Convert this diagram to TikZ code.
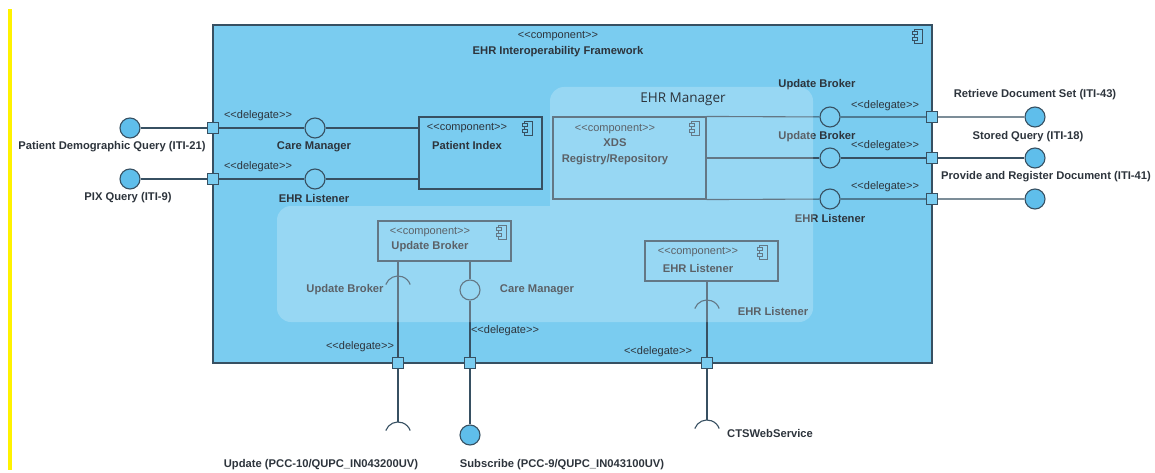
\documentclass[tikz,border=0pt]{standalone}
\usepackage{fontspec}
\setmainfont{Liberation Sans}
\newfontfamily\panelfont{Open Sans}
\definecolor{frame}{RGB}{122,204,240}
\definecolor{linec}{RGB}{55,80,98}
\definecolor{lolli}{RGB}{95,190,235}
\definecolor{txt}{RGB}{45,52,60}
\newcommand\stname[1]{<\kern0pt<#1>\kern0pt>}
\tikzset{
  cicon/.pic={
    \draw[linec, line width=0.9pt, fill=frame] (-3.5,-7) rectangle (4,7);
    \draw[linec, line width=0.9pt, fill=frame] (-6,-4.5) rectangle (-1,-1.5);
    \draw[linec, line width=0.9pt, fill=frame] (-6,1.5) rectangle (-1,4.5);
  }
}
\begin{document}
\begin{tikzpicture}[x=1pt,y=-1pt,
  line/.style={draw=linec, line width=1.1pt},
  lbl/.style={font=\fontsize{11.2}{13}\selectfont\bfseries, text=txt, inner sep=0pt},
  ster/.style={font=\fontsize{11}{13}\selectfont, text=txt, inner sep=0pt},
  port/.style={draw=linec, line width=1.1pt, fill=frame, rectangle, minimum size=11pt, inner sep=0pt},
  prov/.style={draw=linec, line width=1.1pt, fill=frame, circle, minimum size=20pt, inner sep=0pt},
  ext/.style={prov, fill=lolli},
  comp/.style={draw=linec, line width=1.1pt, rectangle, inner sep=0pt},
]
\useasboundingbox (0,0) rectangle (1155,473);
\fill[white] (0,0) rectangle (1155,473);
\fill[yellow] (8,9) rectangle (12,470);

% outer component
\node[comp, fill=frame, line width=1.4pt, minimum width=719pt, minimum height=338pt] (fw) at (572.5,194) {};
\pic at (918,36) {cicon};
\node[ster] (fwst) at (558,36) {\stname{component}};
\node[lbl] (fwname) at (558,52) {EHR Interoperability Framework};

% inner components
\node[comp, minimum width=123pt, minimum height=72pt] (pi) at (480.5,153) {};
\node[comp, minimum width=153pt, minimum height=82pt] (xds) at (629.5,158) {};
\node[comp, minimum width=133pt, minimum height=40pt] (ub) at (444.5,241) {};
\node[comp, minimum width=133pt, minimum height=40pt] (el) at (711.5,261) {};
\pic at (528,128) {cicon};
\pic at (695,128) {cicon};
\pic at (502,232) {cicon};
\pic at (763,252) {cicon};

% left interfaces
\node[ext] (lx1) at (130,128) {};
\node[ext] (lx2) at (130,179) {};
\node[port] (lp1) at (213,128) {};
\node[port] (lp2) at (213,179) {};
\node[prov] (lc1) at (315,128) {};
\node[prov] (lc2) at (315,179) {};
\draw[line] (lx1) -- (lp1) -- (lc1) -- (lc1 -| pi.west);
\draw[line] (lx2) -- (lp2) -- (lc2) -- (lc2 -| pi.west);

% right interfaces
\node[prov] (rc1) at (830,117) {};
\node[prov] (rc2) at (830,158) {};
\node[prov] (rc3) at (830,199) {};
\node[port] (rp1) at (932,117) {};
\node[port] (rp2) at (932,158) {};
\node[port] (rp3) at (932,199) {};
\node[ext] (rx1) at (1035,117) {};
\node[ext] (rx2) at (1035,158) {};
\node[ext] (rx3) at (1035,199) {};
\draw[line] (xds.north east) -- (rc1) -- (rp1) -- (rx1);
\draw[line] (xds.east) -- (rc2) -- (rp2) -- (rx2);
\draw[line] (xds.south east) -- (rc3) -- (rp3) -- (rx3);

% bottom interfaces
\node[port] (bp1) at (398,363) {};
\node[port] (bp2) at (470,363) {};
\node[port] (bp3) at (707,363) {};
\node[prov] (bc2) at (470,290) {};
\node[ext] (bx2) at (470,435) {};
\coordinate (sk1) at (398,289);
\coordinate (sk2) at (398,435);
\coordinate (sk2a) at (398,422);
\coordinate (sk3) at (707,313);
\coordinate (sk4) at (707,433);
\coordinate (sk4a) at (707,420);
\draw[line] (bp1 |- ub.south) -- (bp1) -- (sk2a);
\draw[line] (bc2 |- ub.south) -- (bc2) -- (bp2) -- (bx2);
\draw[line] (bp3 |- el.south) -- (bp3) -- (sk4a);
\foreach \s in {sk1,sk2,sk3,sk4}
  \draw[line] (\s) ++(160:13pt) arc[start angle=160, end angle=20, radius=13pt];

% component texts
\node[ster] (pist) at (467,128) {\stname{component}};
\node[lbl] (piname) at (467,145) {Patient Index};
\node[ster] (xdsst) at (615,129) {\stname{component}};
\node[lbl, align=center, font=\fontsize{11.2}{16}\selectfont\bfseries] (xdsname) at (615,152) {XDS\\Registry/Repository};
\node[ster] (ubst) at (430,232) {\stname{component}};
\node[lbl] (ubname) at (430,247) {Update Broker};
\node[ster] (elst) at (698,252) {\stname{component}};
\node[lbl] (elname) at (698,268) {EHR Listener};

% interface labels
\node[lbl] (t1) at (112,147) {Patient Demographic Query (ITI-21)};
\node[lbl] (t2) at (128,198) {PIX Query (ITI-9)};
\node[lbl] (t3) at (314,147) {Care Manager};
\node[lbl] (t4) at (314,198) {EHR Listener};
\node[lbl] (t5) at (817,85) {Update Broker};
\node[lbl] (t6) at (817,137) {Update Broker};
\node[lbl] (t7) at (830,218) {EHR Listener};
\node[lbl] (t8) at (1035,95) {Retrieve Document Set (ITI-43)};
\node[lbl] (t9) at (1028,137) {Stored Query (ITI-18)};
\node[lbl] (t10) at (1046,177) {Provide and Register Document (ITI-41)};
\node[lbl] (t11) at (345,290) {Update Broker};
\node[lbl] (t12) at (537,290) {Care Manager};
\node[lbl] (t13) at (773,311) {EHR Listener};
\node[lbl] (t14) at (321,465) {Update (PCC-10/QUPC\_IN043200UV)};
\node[lbl] (t15) at (562,465) {Subscribe (PCC-9/QUPC\_IN043100UV)};
\node[lbl, anchor=west] (t16) at (727,433) {CTSWebService};

% delegate labels
\node[ster] (d1) at (258,116) {\stname{delegate}};
\node[ster] (d2) at (258,167) {\stname{delegate}};
\node[ster] (d3) at (885,106) {\stname{delegate}};
\node[ster] (d4) at (885,146) {\stname{delegate}};
\node[ster] (d5) at (885,187) {\stname{delegate}};
\node[ster] (d6) at (360,347) {\stname{delegate}};
\node[ster] (d7) at (505,331) {\stname{delegate}};
\node[ster] (d8) at (658,352) {\stname{delegate}};

% translucent grouping panel
\fill[white, fill opacity=0.225, rounded corners=14pt]
  (550,87) rectangle (813,250) (277,206) rectangle (813,322);
\node[font=\panelfont\fontsize{13.5}{15}\selectfont, text=txt, inner sep=0pt] (mgr) at (683,99) {EHR Manager};
\end{tikzpicture}
\end{document}
